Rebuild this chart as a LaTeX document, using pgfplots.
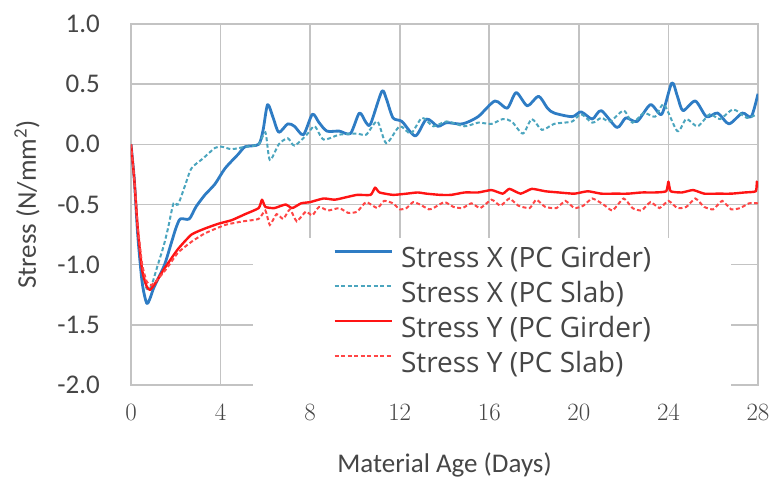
\documentclass[border=0pt]{standalone}
\usepackage{pgfplots}
\pgfplotsset{compat=1.18}
\usepackage{fontspec}
\setmainfont{Carlito}
\newfontfamily\legfont{Open Sans}
\definecolor{sxg}{RGB}{46,124,196}
\definecolor{sxs}{RGB}{75,165,190}
\definecolor{syg}{RGB}{255,20,20}
\definecolor{sys}{RGB}{255,70,70}
\definecolor{gridc}{RGB}{195,195,195}
\definecolor{txt}{RGB}{70,70,70}

\pgfplotstableread{
x y
0 0
0.15 -0.3
0.3 -0.75
0.5 -1.15
0.7 -1.32
0.85 -1.28
1.0 -1.2
1.2 -1.12
1.5 -1.0
1.8 -0.82
2.0 -0.70
2.2 -0.62
2.6 -0.62
2.9 -0.52
3.3 -0.42
3.75 -0.33
4.2 -0.20
4.8 -0.08
5.1 -0.02
5.7 0.0
5.9 0.12
6.1 0.33
6.35 0.22
6.6 0.10
7.0 0.17
7.3 0.15
7.7 0.08
8.1 0.25
8.4 0.18
8.75 0.11
9.3 0.11
9.8 0.09
10.2 0.26
10.5 0.18
10.7 0.17
11.2 0.44
11.4 0.38
11.7 0.22
12.1 0.19
12.7 0.07
13.2 0.21
13.7 0.15
14.1 0.18
14.8 0.17
15.5 0.23
16.25 0.36
16.8 0.30
17.2 0.43
17.7 0.32
18.2 0.40
18.6 0.30
18.9 0.26
19.7 0.23
20.1 0.27
20.6 0.21
21.0 0.28
21.7 0.14
22.1 0.22
22.6 0.19
23.2 0.33
23.7 0.25
24.15 0.51
24.4 0.40
24.65 0.28
25.2 0.36
25.7 0.23
26.2 0.26
26.7 0.17
27.3 0.26
27.7 0.23
28.0 0.42
}\sxgirder

\pgfplotstableread{
x y
0 0
0.15 -0.3
0.3 -0.7
0.5 -1.05
0.7 -1.2
0.9 -1.18
1.2 -1.0
1.45 -0.85
1.65 -0.7
1.9 -0.49
2.1 -0.50
2.4 -0.35
2.7 -0.20
3.2 -0.12
3.75 -0.03
4.05 -0.02
4.5 -0.04
5.1 -0.02
5.7 0.0
6.0 0.10
6.2 -0.13
6.6 0.0
7.0 0.05
7.3 -0.01
7.85 0.08
8.2 0.15
8.6 0.04
9.3 0.08
10.1 0.09
10.5 0.08
11.0 0.19
11.4 0.01
12.0 0.15
12.5 0.09
13.0 0.22
13.5 0.15
14.1 0.19
14.9 0.15
15.5 0.18
16.1 0.17
16.6 0.21
17.0 0.19
17.5 0.09
17.9 0.21
18.35 0.12
18.9 0.17
19.7 0.19
20.1 0.25
20.6 0.18
21.0 0.22
21.4 0.19
22.0 0.28
22.4 0.18
22.9 0.26
23.4 0.23
23.8 0.33
24.4 0.11
24.8 0.21
25.3 0.15
25.85 0.25
26.3 0.21
26.9 0.29
27.5 0.22
27.95 0.25
}\sxslab

\pgfplotstableread{
x y
0 0
0.15 -0.3
0.3 -0.7
0.5 -1.05
0.7 -1.18
0.85 -1.21
1.1 -1.15
1.5 -1.03
2.1 -0.87
2.7 -0.75
3.3 -0.70
3.9 -0.66
4.5 -0.63
5.1 -0.58
5.7 -0.53
5.85 -0.46
6.0 -0.52
6.4 -0.53
6.9 -0.50
7.2 -0.53
7.6 -0.49
8.0 -0.48
8.6 -0.45
9.1 -0.46
9.6 -0.44
10.1 -0.42
10.7 -0.42
10.9 -0.36
11.1 -0.40
11.7 -0.42
12.3 -0.41
12.8 -0.40
13.2 -0.41
13.8 -0.42
14.3 -0.42
14.9 -0.40
15.5 -0.40
16.1 -0.38
16.6 -0.41
16.9 -0.37
17.4 -0.41
17.9 -0.37
18.5 -0.39
19.1 -0.40
19.8 -0.41
20.4 -0.39
21.0 -0.41
21.6 -0.41
22.2 -0.41
22.8 -0.40
23.4 -0.40
23.9 -0.39
24.0 -0.31
24.1 -0.39
24.6 -0.40
25.1 -0.38
25.6 -0.41
26.2 -0.41
26.8 -0.41
27.4 -0.40
27.9 -0.39
27.95 -0.31
28.0 -0.36
}\sygirder

\pgfplotstableread{
x y
0 0
0.15 -0.3
0.3 -0.68
0.5 -1.0
0.7 -1.14
0.9 -1.17
1.2 -1.12
1.6 -1.03
2.1 -0.90
2.7 -0.81
3.3 -0.74
4.2 -0.67
5.0 -0.64
5.7 -0.62
6.0 -0.55
6.2 -0.67
6.5 -0.58
6.8 -0.62
7.1 -0.54
7.4 -0.64
7.8 -0.56
8.1 -0.59
8.4 -0.52
8.8 -0.55
9.3 -0.53
9.7 -0.57
10.1 -0.56
10.5 -0.48
11.0 -0.53
11.3 -0.47
11.7 -0.49
12.0 -0.54
12.3 -0.53
12.6 -0.48
12.9 -0.50
13.3 -0.54
13.5 -0.53
14.0 -0.48
14.4 -0.52
14.8 -0.53
15.2 -0.49
15.6 -0.53
16.1 -0.46
16.5 -0.51
16.9 -0.45
17.3 -0.51
17.8 -0.53
18.1 -0.46
18.5 -0.52
19.0 -0.53
19.4 -0.47
19.8 -0.53
20.2 -0.51
20.6 -0.45
21.1 -0.50
21.5 -0.55
22.0 -0.45
22.4 -0.53
22.8 -0.55
23.2 -0.48
23.6 -0.53
24.0 -0.47
24.4 -0.53
24.8 -0.52
25.2 -0.45
25.6 -0.52
26.0 -0.54
26.4 -0.47
26.8 -0.54
27.2 -0.53
27.6 -0.49
28.0 -0.49
}\syslab

\begin{document}
\begin{tikzpicture}
\useasboundingbox (-131pt,-99pt) rectangle (643pt,385pt);
\begin{axis}[
  at={(0pt,0pt)}, anchor=south west,
  scale only axis, width=627pt, height=361pt,
  xmin=0, xmax=28, ymin=-2, ymax=1,
  xtick={0,4,...,28},
  ytick={-2,-1.5,...,1},
  yticklabels={-2.0,-1.5,-1.0,-0.5,0.0,0.5,1.0},
  grid=major,
  major grid style={draw=gridc, line width=1.6pt},
  axis line style={draw=gridc, line width=1.6pt},
  major tick length=0pt,
  tick label style={font=\fontsize{27}{30}\selectfont, text=txt, inner sep=0pt},
  yticklabel style={anchor=east, xshift=-31pt},
  xticklabel style={anchor=north, yshift=-19pt},
  xlabel={Material Age (Days)},
  ylabel={Stress (N/mm\textsuperscript{2})},
  label style={font=\fontsize{27}{30}\selectfont, text=txt, inner sep=0pt},
  xlabel style={at={(axis description cs:0.5,-0.2216)}, anchor=center},
  ylabel style={at={(axis description cs:-0.1659,0.5)}, anchor=center},
  legend style={
    at={(axis description cs:0.1946,0.407)}, anchor=north west,
    fill=white, draw=none, inner xsep=80pt, inner ysep=9pt,
    font=\legfont\fontsize{28}{30}\selectfont, text=txt,
    row sep=9pt,
    nodes={inner sep=0pt, text height=20pt, text depth=6pt},
    /tikz/every odd column/.append style={column sep=8pt},
  },
  legend cell align=left,
  legend image code/.code={\draw[#1, smooth=false] (0pt,9pt) -- (57pt,9pt);},
]
\addplot[sxg, line width=2.8pt, line join=round, smooth, tension=0.45] table {\sxgirder};
\addlegendentry{Stress X (PC Girder)}
\addplot[sxs, line width=2pt, dash pattern=on 4pt off 2.5pt, smooth, tension=0.45] table {\sxslab};
\addlegendentry{Stress X (PC Slab)}
\addplot[syg, line width=2.4pt, line join=round, smooth, tension=0.3] table {\sygirder};
\addlegendentry{Stress Y (PC Girder)}
\addplot[sys, line width=2pt, dash pattern=on 4pt off 2.5pt, smooth, tension=0.3] table {\syslab};
\addlegendentry{Stress Y (PC Slab)}
\end{axis}
\end{tikzpicture}
\end{document}
